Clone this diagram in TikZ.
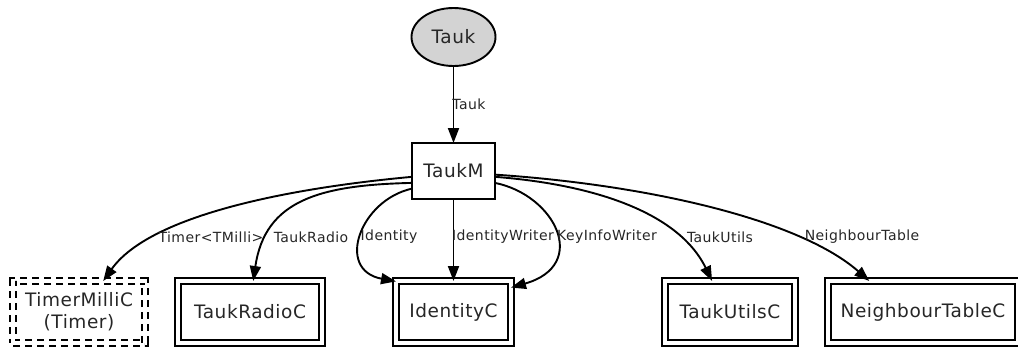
\documentclass[tikz,border=0pt]{standalone}
\usepackage{fontspec}
\setmainfont{DejaVu Sans}[LetterSpace=3]
\usetikzlibrary{arrows.meta,shapes.geometric}
\begin{document}
\begin{tikzpicture}[x=1pt,y=1pt,
  every node/.style={inner sep=0pt, outer sep=0pt, text=black!85},
  lw/.style={line width=1.9pt},
  ntext/.style={font=\fontsize{18.5}{22}\selectfont},
  ltext/.style={font=\fontsize{14}{15}\selectfont},
  comp/.style={ntext, draw, line width=1.7pt, double, double distance=3.8pt, minimum height=62pt},
  modbox/.style={ntext, draw, lw, fill=white},
  conn/.style={lw, -{Triangle[length=15pt,width=11pt]}}]
\useasboundingbox (0,0) rectangle (1018,-351);
% nodes
\node[ellipse, draw, lw, fill={rgb,255:red,211;green,211;blue,211}, ntext,
      minimum width=84pt, minimum height=58pt] (Tauk) at (453.5,-37) {Tauk};
\node[modbox, minimum width=83pt, minimum height=56pt] (TaukM) at (453.5,-171) {TaukM};
\node[comp, dash pattern=on 7pt off 5pt, minimum width=132pt, align=center] (Timer) at (79,-312) {TimerMilliC\\(Timer)};
\node[comp, minimum width=144pt] (Radio) at (250,-312) {TaukRadioC};
\node[comp, minimum width=115pt] (Ident) at (453.5,-312) {IdentityC};
\node[comp, minimum width=130pt] (Utils) at (730,-312) {TaukUtilsC};
\node[comp, minimum width=190pt] (Neigh) at (923,-312) {NeighbourTableC};
% connectors
\draw[conn] (Tauk) -- (TaukM);
\draw[conn] (TaukM.188) .. controls (290,-188) and (150,-215) .. (Timer.52);
\draw[conn] (TaukM.196) .. controls (320,-185) and (265,-200) .. (Radio.84.5);
\draw[conn] (TaukM.203) .. controls (360,-200) and (335,-270) .. (Ident.152.5);
\draw[conn] (TaukM) -- (Ident);
\draw[conn] (TaukM.344) .. controls (555,-195) and (590,-265) .. (Ident.23.5);
\draw[conn] (TaukM.352) .. controls (600,-185) and (680,-215) .. (Utils.120);
\draw[conn] (TaukM.355) .. controls (650,-185) and (800,-220) .. (Neigh.150.6);
% labels
\node[ltext] (lTauk) at (469,-104) {Tauk};
\node[ltext] (lTimer) at (211,-237) {Timer<TMilli>};
\node[ltext] (lRadio) at (311,-237) {TaukRadio};
\node[ltext] (lIdent) at (389,-237) {Identity};
\node[ltext] (lIdW) at (503,-237) {IdentityWriter};
\node[ltext] (lKey) at (607,-237) {KeyInfoWriter};
\node[ltext] (lUtils) at (720,-237) {TaukUtils};
\node[ltext] (lNeigh) at (862,-237) {NeighbourTable};
\end{tikzpicture}
\end{document}
